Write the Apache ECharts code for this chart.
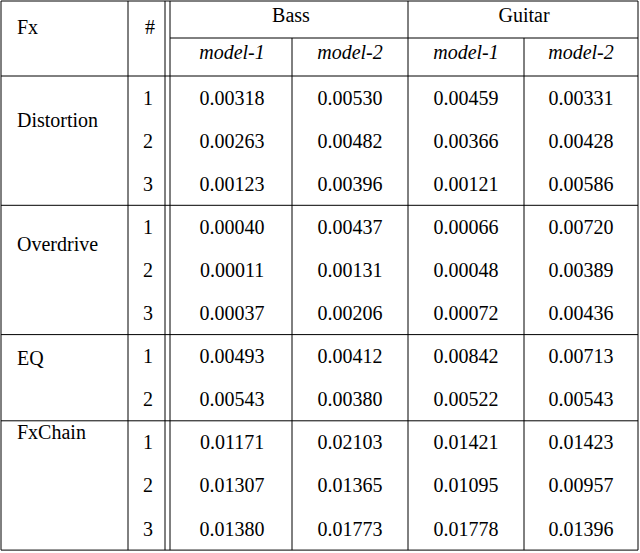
<!DOCTYPE html>
<html><head><meta charset="utf-8">
<script src="https://cdn.jsdelivr.net/npm/echarts@6/dist/echarts.min.js"></script>
<style>html,body{margin:0;padding:0;background:#fff}#c{width:640px;height:553px}</style>
</head><body><div id="c"></div>
<script>
// table content
var groups = ['Distortion', 'Overdrive', 'EQ', 'FxChain'];
var groupRows = [3, 3, 2, 3];
var instruments = ['Bass', 'Guitar'];
var models = ['model-1', 'model-2'];
var values = [
  ['0.00318', '0.00530', '0.00459', '0.00331'],
  ['0.00263', '0.00482', '0.00366', '0.00428'],
  ['0.00123', '0.00396', '0.00121', '0.00586'],
  ['0.00040', '0.00437', '0.00066', '0.00720'],
  ['0.00011', '0.00131', '0.00048', '0.00389'],
  ['0.00037', '0.00206', '0.00072', '0.00436'],
  ['0.00493', '0.00412', '0.00842', '0.00713'],
  ['0.00543', '0.00380', '0.00522', '0.00543'],
  ['0.01171', '0.02103', '0.01421', '0.01423'],
  ['0.01307', '0.01365', '0.01095', '0.00957'],
  ['0.01380', '0.01773', '0.01778', '0.01396']
];

// layout (pixel space of the axes)
var colX = [1, 128, 165, 170, 292, 408, 524, 638];
var valCenters = [232, 350, 466, 581];
var headTop = 1, headMid = 38, headBot = 76, rowH = 43.1;
var groupLabelOffset = [44, 39, 23, 11];

var texts = [], lines = [];
function T(x, y, s, opt) { texts.push([x, y, s, opt || {}]); }
function L(x1, y1, x2, y2) { lines.push([x1, y1, x2, y2]); }

T(17, 27, 'Fx', { align: 'left' });
T(150, 27, '#');
T(291, 15, instruments[0]);
T(524, 15, instruments[1]);
valCenters.forEach(function (cx, i) { T(cx, 52, models[i % 2], { italic: true }); });

var y = headBot, r = 0;
L(colX[0], headTop, colX[7], headTop);
L(colX[3], headMid, colX[7], headMid);
L(colX[0], headBot, colX[7], headBot);
groups.forEach(function (g, gi) {
  T(17, y + groupLabelOffset[gi], g, { align: 'left' });
  for (var k = 0; k < groupRows[gi]; k++) {
    var cy = y + rowH * (k + 0.5);
    T(148, cy, String(k + 1));
    values[r].forEach(function (v, j) { T(valCenters[j], cy, v); });
    r++;
  }
  y += rowH * groupRows[gi];
  L(colX[0], y, colX[7], y);
});
var bottom = y;
[0, 1, 2, 3, 5, 7].forEach(function (i) { L(colX[i], headTop, colX[i], bottom); });
L(colX[4], headMid, colX[4], bottom);
L(colX[6], headMid, colX[6], bottom);

var chart = echarts.init(document.getElementById('c'), null, { renderer: 'svg' });
chart.setOption({
  animation: false,
  grid: { left: 0, right: 0, top: 0, bottom: 0 },
  xAxis: { type: 'value', min: 0, max: 640, show: false },
  yAxis: { type: 'value', min: 0, max: 553, inverse: true, show: false },
  series: [
    {
      type: 'custom', data: lines, silent: true,
      renderItem: function (params, api) {
        var a = api.coord([api.value(0), api.value(1)]);
        var b = api.coord([api.value(2), api.value(3)]);
        return { type: 'line', shape: { x1: a[0], y1: a[1], x2: b[0], y2: b[1] },
          style: { stroke: '#000', lineWidth: 1 } };
      }
    },
    {
      type: 'custom', data: texts.map(function (t) { return [t[0], t[1], t[2]]; }), silent: true,
      renderItem: function (params, api) {
        var t = texts[params.dataIndex];
        var p = api.coord([t[0], t[1]]);
        return { type: 'text', x: p[0], y: p[1],
          style: { text: t[2], fill: '#000', align: t[3].align || 'center', verticalAlign: 'middle',
            fontFamily: 'Liberation Serif', fontSize: 20,
            fontStyle: t[3].italic ? 'italic' : 'normal' } };
      }
    }
  ]
});
</script></body></html>
